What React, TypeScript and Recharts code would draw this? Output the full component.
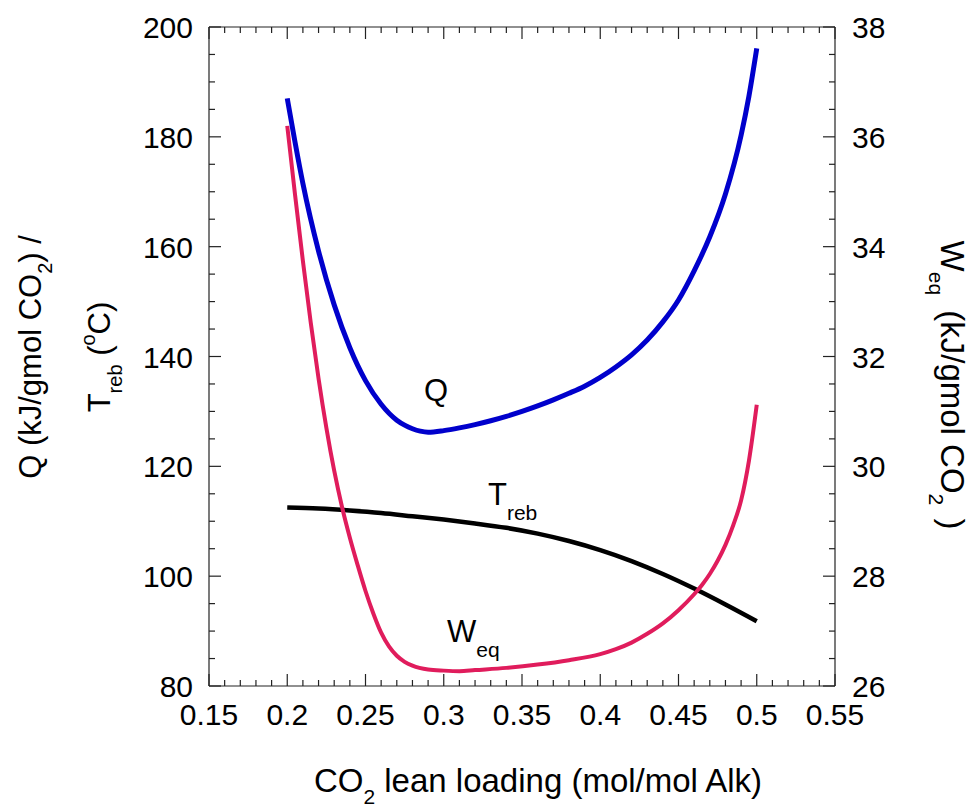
import { LineChart, Line, XAxis, YAxis } from 'recharts';

// lean loading (mol/mol Alk) vs. Q, Treb (left axis) and Weq (right axis)
const qLoading = [0.2, 0.205, 0.21, 0.22, 0.23, 0.24, 0.25, 0.26, 0.27, 0.275, 0.28, 0.285, 0.29, 0.3, 0.31, 0.32, 0.33, 0.34, 0.35, 0.36, 0.37, 0.38, 0.39, 0.4, 0.41, 0.42, 0.43, 0.44, 0.45, 0.46, 0.47, 0.48, 0.49, 0.495, 0.5];
const qValues = [187, 179, 171.5, 159.2, 149.4, 141.6, 135.6, 131.3, 128.4, 127.5, 126.85, 126.4, 126.2, 126.5, 127, 127.6, 128.3, 129.1, 130, 131, 132.1, 133.3, 134.6, 136.2, 138.1, 140.3, 143, 146.3, 150.3, 155.6, 161.8, 169.6, 180.3, 187.4, 196.1];

const tLoading = [0.2, 0.22, 0.24, 0.26, 0.28, 0.3, 0.32, 0.34, 0.36, 0.38, 0.4, 0.42, 0.44, 0.46, 0.48, 0.5];
const tValues = [112.5, 112.3, 111.95, 111.5, 110.9, 110.3, 109.6, 108.8, 107.75, 106.4, 104.75, 102.75, 100.4, 97.75, 94.85, 91.8];

const wLoading = [0.2, 0.205, 0.21, 0.215, 0.22, 0.225, 0.23, 0.235, 0.24, 0.245, 0.25, 0.255, 0.26, 0.265, 0.27, 0.275, 0.28, 0.29, 0.3, 0.31, 0.32, 0.34, 0.36, 0.38, 0.4, 0.41, 0.42, 0.43, 0.44, 0.45, 0.46, 0.465, 0.47, 0.475, 0.48, 0.485, 0.49, 0.495, 0.5];
const wValues = [36.2, 34.94, 33.74, 32.62, 31.6, 30.7, 29.92, 29.26, 28.7, 28.2, 27.73, 27.32, 26.97, 26.72, 26.55, 26.44, 26.37, 26.3, 26.28, 26.27, 26.29, 26.33, 26.39, 26.47, 26.58, 26.67, 26.79, 26.95, 27.14, 27.38, 27.67, 27.84, 28.04, 28.28, 28.57, 28.93, 29.38, 30.1, 31.12];

// tick labels
const xMajor = [0.15, 0.2, 0.25, 0.3, 0.35, 0.4, 0.45, 0.5, 0.55];
const leftMajor = [80, 100, 120, 140, 160, 180, 200];
const rightMajor = [26, 28, 30, 32, 34, 36, 38];

const toRows = (xs: number[], ys: number[]) => xs.map((x, i) => ({ x, y: ys[i] }));
const qData = toRows(qLoading, qValues);
const tData = toRows(tLoading, tValues);
const wData = toRows(wLoading, wValues);

// minor tick positions (5 per major interval on x, 4 on y)
const steps = (a: number, b: number, s: number) => {
  const out: number[] = [];
  for (let i = 0; a + i * s <= b + 1e-9; i++) out.push(Math.round((a + i * s) * 1000) / 1000);
  return out;
};
const xTicks = steps(0.15, 0.55, 0.01);
const leftTicks = steps(80, 200, 5);
const rightTicks = steps(26, 38, 0.5);

const FONT = '"Liberation Sans", Arial, Helvetica, sans-serif';
const isMajor = (v: number, list: number[]) => list.some((m) => Math.abs(m - v) < 1e-6);
const MAJ = 12, MIN = 6;

function BottomTick({ x, y, payload }: any) {
  const major = isMajor(payload.value, xMajor);
  return (
    <g>
      <line x1={x} x2={x} y1={y} y2={y - (major ? MAJ : MIN)} stroke="#222" strokeWidth={1.2} />
      {major && <text x={x} y={y + 39} textAnchor="middle" fontSize={30} fontFamily={FONT} fill="#000">{String(payload.value)}</text>}
    </g>
  );
}
function TopTick({ x, y, payload }: any) {
  const major = isMajor(payload.value, xMajor);
  return <line x1={x} x2={x} y1={y} y2={y + (major ? MAJ : MIN)} stroke="#222" strokeWidth={1.2} />;
}
function LeftTick({ x, y, payload }: any) {
  const major = isMajor(payload.value, leftMajor);
  return (
    <g>
      <line x1={x} x2={x + (major ? MAJ : MIN)} y1={y} y2={y} stroke="#222" strokeWidth={1.2} />
      {major && <text x={x - 16} y={y + 11} textAnchor="end" fontSize={30} fontFamily={FONT} fill="#000">{payload.value}</text>}
    </g>
  );
}
function RightTick({ x, y, payload }: any) {
  const major = isMajor(payload.value, rightMajor);
  return (
    <g>
      <line x1={x} x2={x - (major ? MAJ : MIN)} y1={y} y2={y} stroke="#222" strokeWidth={1.2} />
      {major && <text x={x + 17} y={y + 11} textAnchor="start" fontSize={30} fontFamily={FONT} fill="#000">{payload.value}</text>}
    </g>
  );
}

export default function App() {
  const txt = { fontFamily: FONT, fill: '#000' };
  return (
    <div style={{ position: 'absolute', left: 0, top: 0, width: 972, height: 812, background: '#fff' }}>
      <LineChart width={972} height={812} margin={{ top: 26, right: 37, bottom: 66, left: 109 }}>
        <XAxis xAxisId="b" type="number" dataKey="x" domain={[0.15, 0.55]} ticks={xTicks} interval={0}
          orientation="bottom" height={60} tickSize={0} tickMargin={0} tickLine={false}
          axisLine={{ stroke: '#222', strokeWidth: 1.2 }} tick={<BottomTick />} allowDataOverflow />
        <XAxis xAxisId="t" type="number" dataKey="x" domain={[0.15, 0.55]} ticks={xTicks} interval={0}
          orientation="top" height={1} tickSize={0} tickMargin={0} tickLine={false}
          axisLine={{ stroke: '#222', strokeWidth: 1.2 }} tick={<TopTick />} allowDataOverflow />
        <YAxis yAxisId="l" type="number" domain={[80, 200]} ticks={leftTicks} interval={0} width={100}
          tickSize={0} tickMargin={0} tickLine={false} axisLine={{ stroke: '#222', strokeWidth: 1.2 }}
          tick={<LeftTick />} allowDataOverflow />
        <YAxis yAxisId="r" orientation="right" type="number" domain={[26, 38]} ticks={rightTicks} interval={0} width={100}
          tickSize={0} tickMargin={0} tickLine={false} axisLine={{ stroke: '#222', strokeWidth: 1.2 }}
          tick={<RightTick />} allowDataOverflow />
        <Line xAxisId="b" yAxisId="l" data={tData} dataKey="y" type="monotone" stroke="#000" strokeWidth={4.5}
          dot={false} activeDot={false} isAnimationActive={false} />
        <Line xAxisId="b" yAxisId="r" data={wData} dataKey="y" type="monotone" stroke="#E01C5C" strokeWidth={4}
          dot={false} activeDot={false} isAnimationActive={false} />
        <Line xAxisId="b" yAxisId="l" data={qData} dataKey="y" type="monotone" stroke="#0000CC" strokeWidth={5}
          dot={false} activeDot={false} isAnimationActive={false} />
      </LineChart>
      <svg width={972} height={812} style={{ position: 'absolute', left: 0, top: 0, pointerEvents: 'none', whiteSpace: 'pre' }}>
        {/* curve labels */}
        <text x={424} y={401} fontSize={31} {...txt}>Q</text>
        <text x={488} y={505} fontSize={31} {...txt}>T<tspan fontSize={21} dy={15}>reb</tspan></text>
        <text x={447} y={642} fontSize={31} {...txt}>W<tspan fontSize={21} dy={15}>eq</tspan></text>
        {/* x title */}
        <text x={538} y={792} fontSize={33} textAnchor="middle" {...txt}>
          CO<tspan fontSize={21} dy={12}>2</tspan><tspan dy={-12}> lean loading (mol/mol Alk)</tspan>
        </text>
        {/* left title */}
        <g transform="translate(41,357) rotate(-90)">
          <text x={0} y={0} fontSize={31} textAnchor="middle" {...txt}>
            Q (kJ/gmol CO<tspan fontSize={20} dy={11}>2</tspan><tspan dy={-11}>) /</tspan>
          </text>
        </g>
        <g transform="translate(110,357) rotate(-90)">
          <text x={0} y={0} fontSize={31} textAnchor="middle" {...txt}>
            T<tspan fontSize={20} dy={12}>reb</tspan><tspan dy={-12}> (</tspan><tspan fontSize={20} dy={-15}>o</tspan><tspan dy={15}>C)</tspan>
          </text>
        </g>
        {/* right title */}
        <g transform="translate(941,385) rotate(90)">
          <text x={0} y={0} fontSize={33} textAnchor="middle" {...txt}>
            W<tspan fontSize={21} dy={12}>eq</tspan><tspan dy={-12} dx={6}>  (kJ/gmol CO</tspan><tspan fontSize={21} dy={12}>2</tspan><tspan dy={-12} dx={4}> )</tspan>
          </text>
        </g>
      </svg>
    </div>
  );
}
